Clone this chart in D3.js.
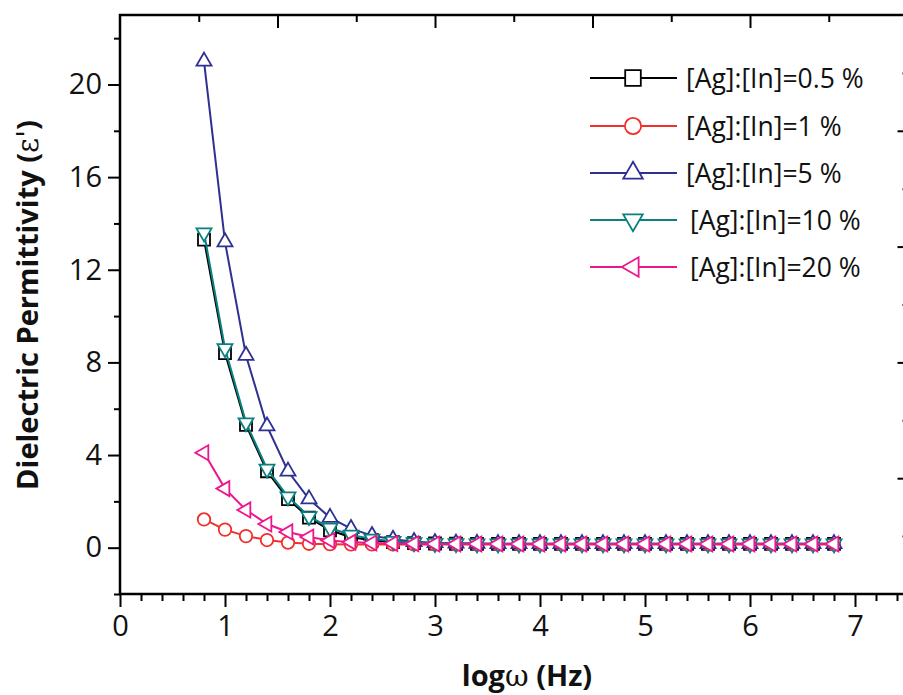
<!DOCTYPE html>
<html>
<head>
<meta charset="utf-8">
<script src="https://cdn.jsdelivr.net/npm/d3@7"></script>
<style>
  body { margin: 0; background: #fff; }
  svg { display: block; }
  text { font-family: "Open Sans", "Noto Sans", sans-serif; }
</style>
</head>
<body>
<svg id="chart" width="903" height="695"></svg>
<script>

// log(omega) values, shared by all series
var logw = [0.8, 1.0, 1.2, 1.4, 1.6, 1.8, 2.0, 2.2, 2.4, 2.6, 2.8, 3.0, 3.2, 3.4, 3.6, 3.8,
            4.0, 4.2, 4.4, 4.6, 4.8, 5.0, 5.2, 5.4, 5.6, 5.8, 6.0, 6.2, 6.4, 6.6, 6.8];

var eps05 = [13.3, 8.4, 5.3, 3.3, 2.1, 1.3, 0.75, 0.45, 0.32, 0.24, 0.2, 0.18, 0.17, 0.16, 0.16, 0.16,
             0.16, 0.16, 0.16, 0.16, 0.16, 0.16, 0.16, 0.16, 0.16, 0.16, 0.16, 0.16, 0.16, 0.16, 0.16];
var eps1  = [1.22, 0.78, 0.5, 0.33, 0.22, 0.17, 0.15, 0.14, 0.14, 0.14, 0.14, 0.14, 0.14, 0.14, 0.14, 0.14,
             0.14, 0.14, 0.14, 0.14, 0.14, 0.14, 0.14, 0.14, 0.14, 0.14, 0.14, 0.14, 0.14, 0.14, 0.14];
var eps5  = [21.0, 13.2, 8.3, 5.25, 3.3, 2.1, 1.3, 0.82, 0.52, 0.36, 0.26, 0.21, 0.19, 0.18, 0.17, 0.17,
             0.17, 0.17, 0.17, 0.17, 0.17, 0.17, 0.17, 0.17, 0.17, 0.17, 0.17, 0.17, 0.17, 0.17, 0.17];
var eps10 = [13.6, 8.6, 5.4, 3.4, 2.2, 1.35, 0.85, 0.55, 0.38, 0.28, 0.22, 0.19, 0.18, 0.17, 0.17, 0.17,
             0.17, 0.17, 0.17, 0.17, 0.17, 0.17, 0.17, 0.17, 0.17, 0.17, 0.17, 0.17, 0.17, 0.17, 0.17];
var eps20 = [4.1, 2.55, 1.63, 1.02, 0.68, 0.46, 0.31, 0.24, 0.2, 0.18, 0.17, 0.16, 0.16, 0.16, 0.16, 0.16,
             0.16, 0.16, 0.16, 0.16, 0.16, 0.16, 0.16, 0.16, 0.16, 0.16, 0.16, 0.16, 0.16, 0.16, 0.16];

var seriesNames = ["[Ag]:[In]=0.5 %", "[Ag]:[In]=1 %", "[Ag]:[In]=5 %", "[Ag]:[In]=10 %", "[Ag]:[In]=20 %"];
var seriesColors = ["#000000", "#f0302c", "#2e3192", "#0b8080", "#ec178c"];
var seriesShapes = ["square", "circle", "up", "down", "left"];
var seriesValues = [eps05, eps1, eps5, eps10, eps20];

var xTicks = [0, 1, 2, 3, 4, 5, 6, 7];
var yTicks = [0, 4, 8, 12, 16, 20];

var svg = d3.select("#chart");

var x = d3.scaleLinear().domain([0, 7.5]).range([120, 907.5]);
var y = d3.scaleLinear().domain([-2, 23]).range([594, 15]);

// marker paths
function marker(shape, s) {
    var sym = d3.symbol();
    if (shape == "square") return sym.type(d3.symbolSquare).size(s * s)();
    if (shape == "circle") return sym.type(d3.symbolCircle).size(Math.PI * s * s / 4)();
    return sym.type(d3.symbolTriangle).size(s * s * Math.sqrt(3) / 4)();
}
function rot(shape) {
    if (shape == "down") return 180;
    if (shape == "left") return -90;
    return 0;
}
function msize(shape, legend) {
    var base = {square: 12, circle: 12.5, up: 15, down: 15, left: 15}[shape];
    return legend ? base * 1.3 : base;
}

// series
var line = d3.line().x(d => x(d[0])).y(d => y(d[1]));

seriesValues.forEach((vals, i) => {
    var pts = logw.map((w, j) => [w, vals[j]]);
    var g = svg.append("g");
    g.append("path")
        .attr("d", line(pts))
        .attr("fill", "none")
        .attr("stroke", seriesColors[i])
        .attr("stroke-width", 2);
    g.selectAll("path.m")
        .data(pts)
        .join("path")
        .attr("class", "m")
        .attr("d", marker(seriesShapes[i], msize(seriesShapes[i])))
        .attr("transform", d => `translate(${x(d[0])},${y(d[1])}) rotate(${rot(seriesShapes[i])})`)
        .attr("fill", "#fff")
        .attr("stroke", seriesColors[i])
        .attr("stroke-width", 1.8);
});

// axes
var axisG = svg.append("g");

function styleAxis(g) {
    g.select(".domain").remove();
    g.selectAll("line").attr("stroke", "#000").attr("stroke-width", 2);
}

// bottom
var xMinor = d3.range(0, 7.51, 0.2).filter(v => Math.abs(v - Math.round(v)) > 1e-6);
axisG.append("g").attr("transform", "translate(0,594)")
    .call(d3.axisBottom(x).tickValues(xMinor).tickSize(7).tickFormat(""))
    .call(styleAxis);
axisG.append("g").attr("transform", "translate(0,594)")
    .call(d3.axisBottom(x).tickValues(xTicks).tickSize(13).tickPadding(8).tickFormat(d3.format("d")))
    .call(styleAxis)
    .selectAll("text").attr("font-size", 29).attr("fill", "#111")
    .attr("font-family", "'Open Sans', sans-serif");

// left
var yMinor = [-2, 2, 6, 10, 14, 18, 22];
axisG.append("g").attr("transform", "translate(120,0)")
    .call(d3.axisLeft(y).tickValues(yMinor).tickSize(6).tickFormat(""))
    .call(styleAxis);
axisG.append("g").attr("transform", "translate(120,0)")
    .call(d3.axisLeft(y).tickValues(yTicks).tickSize(12).tickPadding(6).tickFormat(d3.format("d")))
    .call(styleAxis)
    .selectAll("text").attr("font-size", 29).attr("fill", "#111")
    .attr("font-family", "'Open Sans', sans-serif");

// top (inward ticks)
var topTicks = d3.range(0.75, 7.5, 0.75);
axisG.append("g").attr("transform", "translate(0,15)")
    .call(d3.axisBottom(x).tickValues(topTicks)
        .tickSize(1).tickFormat(""))
    .call(styleAxis)
    .selectAll("line").attr("y2", d => Math.abs(d / 1.5 - Math.round(d / 1.5)) < 1e-6 ? 13 : 7);

// right (inward ticks)
var rightTicks = d3.range(0.5, 23, 2.5);
axisG.append("g").attr("transform", "translate(907.5,0)")
    .call(d3.axisLeft(y).tickValues(rightTicks).tickSize(1).tickFormat(""))
    .call(styleAxis)
    .selectAll("line").attr("x2", d => Math.abs((d + 2) / 5 - Math.round((d + 2) / 5)) < 1e-6 ? -10 : -5);

// frame
axisG.append("path")
    .attr("d", `M${x(0)},${y(-2)}V${y(23)}H${x(7.5)}V${y(-2)}Z`)
    .attr("fill", "none")
    .attr("stroke", "#000")
    .attr("stroke-width", 2.5);

// legend
var leg = svg.append("g");
var legY = [78, 126, 173, 220, 267];
seriesNames.forEach((name, i) => {
    var gy = legY[i];
    leg.append("line")
        .attr("x1", 590).attr("x2", 677).attr("y1", gy).attr("y2", gy)
        .attr("stroke", seriesColors[i]).attr("stroke-width", 1.8);
    leg.append("path")
        .attr("d", marker(seriesShapes[i], msize(seriesShapes[i], true)))
        .attr("transform", `translate(633,${gy}) rotate(${rot(seriesShapes[i])})`)
        .attr("fill", "#fff")
        .attr("stroke", seriesColors[i])
        .attr("stroke-width", 1.8);
    leg.append("text")
        .attr("x", i >= 3 ? 690 : 686)
        .attr("y", gy)
        .attr("dy", "0.36em")
        .attr("font-size", 26.5)
        .attr("fill", "#111")
        .text(name);
});

// axis titles
svg.append("text")
    .attr("x", 527).attr("y", 686)
    .attr("text-anchor", "middle")
    .attr("font-size", 29)
    .attr("font-weight", "bold")
    .attr("fill", "#111")
    .call(t => {
        t.append("tspan").text("log");
        t.append("tspan").attr("font-family", "'DejaVu Serif', serif").attr("font-weight", "normal").text("ω");
        t.append("tspan").text(" (Hz)");
    });

svg.append("text")
    .attr("transform", "translate(38,305) rotate(-90)")
    .attr("text-anchor", "middle")
    .attr("font-size", 29)
    .attr("font-weight", "bold")
    .attr("fill", "#111")
    .call(t => {
        t.append("tspan").text("Dielectric Permittivity (");
        t.append("tspan").attr("font-family", "'DejaVu Serif', serif").attr("font-weight", "normal").text("ε'");
        t.append("tspan").text(")");
    });

</script>
</body>
</html>
